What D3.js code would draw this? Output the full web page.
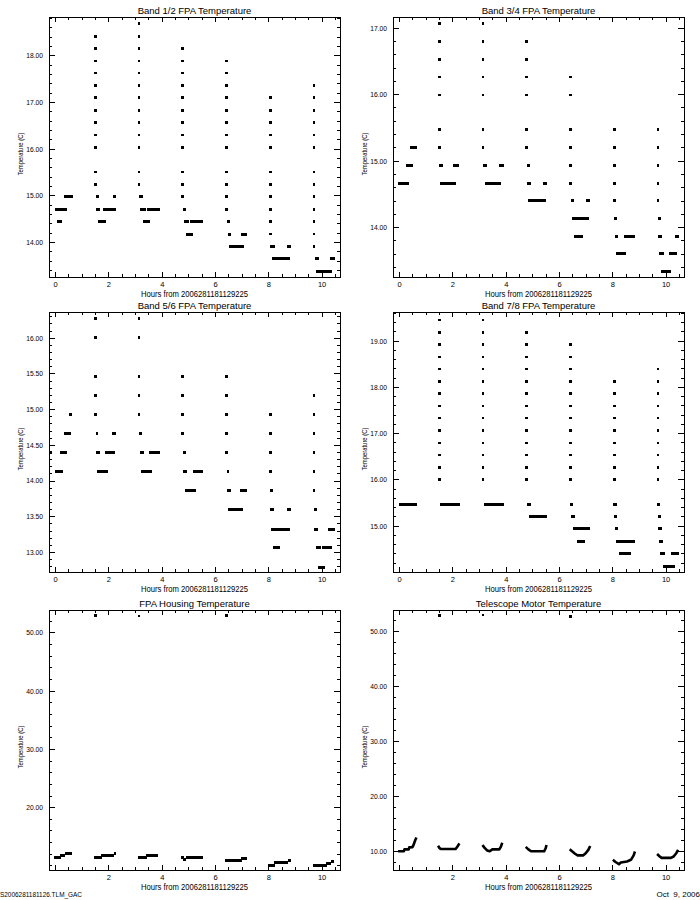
<!DOCTYPE html>
<html><head><meta charset="utf-8">
<script src="https://cdn.jsdelivr.net/npm/d3@7"></script>
<style>
body{margin:0;background:#fff}
svg{display:block}
text{font-family:"Liberation Sans",Arial,sans-serif;fill:#000}
</style>
</head><body>
<svg id="c" width="700" height="900"></svg>
<script>
// ---------------- DATA ----------------
const xDomain = [-0.23, 10.69];
const hourTicks = [0, 2, 4, 6, 8, 10];
const hourLabelsTop = [0, 2, 4, 6, 8, 10];
const hourLabelsBottom = [2, 4, 6, 8, 10];
const xTitle = "Hours from 2006281181129225";
const yTitle = "Temperature (C)";
const footerLeft = "S2006281181126.TLM_GAC";
const footerRight = "Oct  9, 2006";

// Band 1/2
const band12Title = "Band 1/2 FPA Temperature";
const band12YDomain = [13.25, 18.82];
const band12YTicks = [14, 15, 16, 17, 18];
const band12Runs = [
  [0.00,0.44,14.70],[0.06,0.26,14.44],[0.35,0.66,14.97],
  [1.53,1.64,14.97],[1.55,1.70,14.70],[1.60,1.90,14.44],[1.80,2.28,14.70],[2.19,2.26,14.97],
  [3.16,3.29,14.97],[3.19,3.41,14.70],[3.29,3.56,14.44],[3.45,3.94,14.70],
  [4.80,4.90,14.70],[4.84,5.01,14.44],[4.91,5.16,14.17],[5.06,5.54,14.44],
  [6.44,6.56,14.44],[6.47,6.60,14.17],[6.54,7.08,13.90],[6.96,7.19,14.17],
  [8.08,8.25,13.90],[8.15,8.81,13.64],[8.71,8.85,13.90],
  [9.75,9.90,13.64],[9.79,10.38,13.37],[10.31,10.50,13.64]
];
const band12SpikeTimes = [1.50, 3.15, 4.78, 6.44, 8.08, 9.71];
const band12SpikeValues = [
  [18.41,18.15,17.88,17.62,17.35,17.09,16.82,16.56,16.29,16.03,15.50,15.23],
  [18.68,18.41,18.15,17.88,17.62,17.35,17.09,16.82,16.56,16.29,16.03,15.50,15.23],
  [18.15,17.88,17.62,17.35,17.09,16.82,16.56,16.29,16.03,15.50,15.23,14.97],
  [17.88,17.62,17.35,17.09,16.82,16.56,16.29,16.03,15.50,15.23,14.97,14.70],
  [17.09,16.82,16.56,16.29,16.03,15.50,15.23,14.97,14.70,14.44,14.17],
  [17.35,17.09,16.82,16.56,16.29,16.03,15.50,15.23,14.97,14.70,14.44,14.17,13.90]
];

// Band 3/4
const band34Title = "Band 3/4 FPA Temperature";
const band34YDomain = [13.25, 17.16];
const band34YTicks = [14, 15, 16, 17];
const band34Runs = [
  [-0.04,0.36,14.66],[0.25,0.51,14.93],[0.40,0.66,15.20],
  [1.50,1.63,14.93],[1.53,2.13,14.66],[2.03,2.25,14.93],
  [3.15,3.28,14.93],[3.21,3.84,14.66],[3.74,3.93,14.93],
  [4.78,4.91,14.93],[4.81,4.94,14.66],[4.84,5.50,14.40],[5.40,5.54,14.66],
  [6.45,6.55,14.40],[6.49,7.11,14.13],[6.58,6.90,13.86],[7.00,7.18,14.40],
  [8.05,8.18,14.13],[8.11,8.22,13.86],[8.12,8.53,13.60],[8.43,8.84,13.86],
  [9.71,9.81,14.13],[9.71,9.86,13.86],[9.75,9.93,13.60],[9.81,10.21,13.33],[10.13,10.41,13.60],[10.34,10.50,13.86]
];
const band34SpikeTimes = [1.50, 3.15, 4.78, 6.43, 8.08, 9.71];
const band34SpikeValues = [
  [17.06,16.79,16.52,16.26,15.99,15.47,15.20],
  [17.06,16.79,16.52,16.26,15.99,15.47,15.20],
  [16.79,16.52,16.26,15.99,15.47,15.20],
  [16.26,15.99,15.47,15.20,14.93,14.66],
  [15.47,15.20,14.93,14.66,14.40],
  [15.47,15.20,14.93,14.66,14.40]
];

// Band 5/6
const band56Title = "Band 5/6 FPA Temperature";
const band56YDomain = [12.72, 16.36];
const band56YTicks = [13.0, 13.5, 14.0, 14.5, 15.0, 15.5, 16.0];
const band56Runs = [
  [-0.21,-0.12,14.39],[0.00,0.29,14.13],[0.19,0.45,14.39],[0.35,0.60,14.66],[0.53,0.65,14.93],
  [1.53,1.60,14.66],[1.54,1.69,14.39],[1.56,1.98,14.13],[1.88,2.25,14.39],[2.15,2.28,14.66],
  [3.15,3.25,14.66],[3.19,3.34,14.39],[3.23,3.65,14.13],[3.53,3.94,14.39],
  [4.78,4.91,14.39],[4.81,4.94,14.13],[4.88,5.29,13.86],[5.19,5.54,14.13],
  [6.44,6.54,14.13],[6.46,6.59,13.86],[6.50,7.04,13.59],[6.94,7.19,13.86],
  [8.08,8.16,13.86],[8.08,8.21,13.59],[8.10,8.81,13.32],[8.16,8.44,13.06],[8.71,8.85,13.59],
  [9.71,9.81,13.59],[9.73,9.88,13.32],[9.79,9.96,13.06],[9.88,10.13,12.79],[10.00,10.38,13.06],[10.25,10.50,13.32]
];
const band56SpikeTimes = [1.50, 3.15, 4.78, 6.44, 8.08, 9.71];
const band56SpikeValues = [
  [16.27,16.00,15.46,15.19,14.93],
  [16.27,16.00,15.46,15.19,14.93],
  [15.46,15.19,14.93,14.66],
  [15.46,15.19,14.93,14.66,14.39],
  [14.93,14.66,14.39,14.13],
  [15.19,14.93,14.66,14.39,14.13,13.86]
];

// Band 7/8
const band78Title = "Band 7/8 FPA Temperature";
const band78YDomain = [14.00, 19.62];
const band78YTicks = [15, 16, 17, 18, 19];
const band78Runs = [
  [0.00,0.66,15.45],
  [1.53,2.28,15.45],
  [3.19,3.93,15.45],
  [4.78,4.96,15.45],[4.86,5.54,15.20],
  [6.40,6.54,15.45],[6.45,6.59,15.20],[6.53,7.18,14.93],[6.66,6.96,14.66],
  [8.03,8.18,15.45],[8.05,8.18,15.20],[8.09,8.23,14.93],[8.13,8.84,14.66],[8.25,8.69,14.39],
  [9.66,9.78,15.45],[9.70,9.81,15.20],[9.70,9.86,14.93],[9.75,9.90,14.66],[9.79,9.99,14.39],[9.90,10.34,14.12],[10.21,10.50,14.39]
];
const band78SpikeTimes = [1.50, 3.15, 4.78, 6.43, 8.08, 9.71];
const band78SpikeValues = [
  [19.45,19.18,18.92,18.65,18.39,18.12,17.86,17.59,17.33,17.06,16.79,16.53,16.26,16.00],
  [19.45,19.18,18.92,18.65,18.39,18.12,17.86,17.59,17.33,17.06,16.79,16.53,16.26,16.00],
  [19.18,18.92,18.65,18.39,18.12,17.86,17.59,17.33,17.06,16.79,16.53,16.26,16.00],
  [18.92,18.65,18.39,18.12,17.86,17.59,17.33,17.06,16.79,16.53,16.26,16.00],
  [18.12,17.86,17.59,17.33,17.06,16.79,16.53,16.26,16.00],
  [18.39,18.12,17.86,17.59,17.33,17.06,16.79,16.53,16.26,16.00]
];

// FPA Housing
const housingTitle = "FPA Housing Temperature";
const housingYDomain = [9.22, 53.83];
const housingYTicks = [20, 30, 40, 50];
const housingRuns = [
  [-0.03,0.22,11.39],[0.17,0.36,11.70],[0.36,0.65,12.07],
  [1.46,1.75,11.30],[1.72,2.22,11.72],[2.20,2.28,12.05],
  [3.10,3.44,11.30],[3.42,3.87,11.68],
  [4.74,4.80,11.40],[4.78,4.92,11.00],[4.90,5.54,11.30],
  [6.37,7.00,10.85],[6.97,7.19,11.25],
  [8.00,8.25,10.05],[8.23,8.75,10.45],[8.73,8.85,10.80],
  [9.69,10.19,10.05],[10.17,10.37,10.40],[10.35,10.47,10.75]
];
const housingSpikeTimes = [1.50, 3.15, 6.44];
const housingSpikeValues = [[52.86],[52.80],[52.86]];

// Telescope Motor
const motorTitle = "Telescope Motor Temperature";
const motorYDomain = [6.55, 53.75];
const motorYTicks = [10, 20, 30, 40, 50];
const motorCurves = [
  [[-0.04,9.95],[0.18,9.95],[0.20,10.30],[0.36,10.30],[0.38,10.65],[0.50,10.70],[0.55,11.20],[0.60,11.90],[0.65,12.45]],
  [[1.46,10.95],[1.52,10.50],[1.58,10.35],[2.12,10.35],[2.19,10.80],[2.26,11.40]],
  [[3.13,11.10],[3.20,10.60],[3.30,10.10],[3.40,9.95],[3.50,10.30],[3.76,10.30],[3.82,10.80],[3.87,11.50]],
  [[4.75,10.75],[4.85,10.30],[4.95,9.95],[5.44,9.95],[5.50,10.50],[5.53,11.10]],
  [[6.40,10.30],[6.50,9.90],[6.60,9.50],[6.70,9.20],[6.90,9.20],[7.00,9.60],[7.10,10.20],[7.17,10.90]],
  [[8.02,8.40],[8.12,8.00],[8.25,7.60],[8.32,7.90],[8.55,8.10],[8.70,8.40],[8.80,9.20],[8.85,9.90]],
  [[9.68,9.45],[9.78,9.00],[9.85,8.75],[10.20,8.75],[10.30,9.00],[10.40,9.60],[10.47,10.20]]
];
const motorSpikeTimes = [1.50, 3.15, 6.43];
const motorSpikeValues = [[52.72],[52.84],[52.60]];

// ---------------- LAYOUT ----------------
const cols = [[49, 340], [393, 684]];
const rows = [[17, 277], [312, 572], [610, 870]];

const panels = [
  {title: band12Title, col: 0, row: 0, yDomain: band12YDomain, yTicks: band12YTicks, yMinor: 5, runs: band12Runs, spikeTimes: band12SpikeTimes, spikeValues: band12SpikeValues, xLabels: hourLabelsTop},
  {title: band34Title, col: 1, row: 0, yDomain: band34YDomain, yTicks: band34YTicks, yMinor: 5, runs: band34Runs, spikeTimes: band34SpikeTimes, spikeValues: band34SpikeValues, xLabels: hourLabelsTop},
  {title: band56Title, col: 0, row: 1, yDomain: band56YDomain, yTicks: band56YTicks, yMinor: 5, runs: band56Runs, spikeTimes: band56SpikeTimes, spikeValues: band56SpikeValues, xLabels: hourLabelsTop},
  {title: band78Title, col: 1, row: 1, yDomain: band78YDomain, yTicks: band78YTicks, yMinor: 5, runs: band78Runs, spikeTimes: band78SpikeTimes, spikeValues: band78SpikeValues, xLabels: hourLabelsTop},
  {title: housingTitle, col: 0, row: 2, yDomain: housingYDomain, yTicks: housingYTicks, yMinor: 5, runs: housingRuns, spikeTimes: housingSpikeTimes, spikeValues: housingSpikeValues, xLabels: hourLabelsBottom},
  {title: motorTitle, col: 1, row: 2, yDomain: motorYDomain, yTicks: motorYTicks, yMinor: 5, runs: [], curves: motorCurves, spikeTimes: motorSpikeTimes, spikeValues: motorSpikeValues, xLabels: hourLabelsBottom}
];

const svg = d3.select("#c");
const defs = svg.append("defs");
const fmt = d3.format(".2f");

function minorValues(dom, step) {
  const a = Math.ceil(dom[0] / step - 1e-9), b = Math.floor(dom[1] / step + 1e-9);
  return d3.range(a, b + 1).map(k => +(k * step).toFixed(6));
}

function styleAxis(g) {
  g.select(".domain").remove();
  g.selectAll("line").attr("stroke", "#000").attr("stroke-width", 1).attr("shape-rendering", "crispEdges");
}

panels.forEach((p, i) => {
  const [x0, x1] = cols[p.col];
  const [y0, y1] = rows[p.row];
  const x = d3.scaleLinear().domain(xDomain).range([x0, x1]);
  const y = d3.scaleLinear().domain(p.yDomain).range([y1, y0]);
  const g = svg.append("g");
  const cid = "clip" + i;
  defs.append("clipPath").attr("id", cid).append("rect")
    .attr("x", x0).attr("y", y0).attr("width", x1 - x0).attr("height", y1 - y0);
  const plot = g.append("g").attr("clip-path", `url(#${cid})`);

  const xLen = 0.02 * (y1 - y0), yLen = 0.02 * (x1 - x0);
  const xMinor = minorValues(xDomain, 0.5).filter(v => !hourTicks.includes(v));
  const yStep = p.yTicks[1] - p.yTicks[0];
  const yMinor = minorValues(p.yDomain, yStep / p.yMinor).filter(v => !p.yTicks.some(t => Math.abs(t - v) < 1e-6));

  // bottom axis
  const gb = g.append("g").attr("transform", `translate(0,${y1})`)
    .call(d3.axisBottom(x).tickValues(hourTicks).tickSizeInner(-xLen).tickSizeOuter(0).tickPadding(5)
      .tickFormat(d => p.xLabels.includes(d) ? String(d) : ""));
  styleAxis(gb);
  gb.selectAll("text").attr("font-size", 7.5).attr("font-family", null).attr("fill", "#000");
  const gbm = g.append("g").attr("transform", `translate(0,${y1})`)
    .call(d3.axisBottom(x).tickValues(xMinor).tickSizeInner(-xLen / 2).tickSizeOuter(0).tickFormat(() => ""));
  styleAxis(gbm);
  // top axis
  const gt = g.append("g").attr("transform", `translate(0,${y0})`)
    .call(d3.axisTop(x).tickValues(hourTicks).tickSizeInner(-xLen).tickSizeOuter(0).tickFormat(() => ""));
  styleAxis(gt);
  const gtm = g.append("g").attr("transform", `translate(0,${y0})`)
    .call(d3.axisTop(x).tickValues(xMinor).tickSizeInner(-xLen / 2).tickSizeOuter(0).tickFormat(() => ""));
  styleAxis(gtm);
  // left axis
  const gl = g.append("g").attr("transform", `translate(${x0},0)`)
    .call(d3.axisLeft(y).tickValues(p.yTicks).tickSizeInner(-yLen).tickSizeOuter(0).tickPadding(6).tickFormat(fmt));
  styleAxis(gl);
  gl.selectAll("text").attr("font-size", 7.5).attr("font-family", null).attr("fill", "#000")
    .attr("textLength", 16.8).attr("lengthAdjust", "spacingAndGlyphs");
  const glm = g.append("g").attr("transform", `translate(${x0},0)`)
    .call(d3.axisLeft(y).tickValues(yMinor).tickSizeInner(-yLen / 2).tickSizeOuter(0).tickFormat(() => ""));
  styleAxis(glm);
  // right axis
  const gr = g.append("g").attr("transform", `translate(${x1},0)`)
    .call(d3.axisRight(y).tickValues(p.yTicks).tickSizeInner(-yLen).tickSizeOuter(0).tickFormat(() => ""));
  styleAxis(gr);
  const grm = g.append("g").attr("transform", `translate(${x1},0)`)
    .call(d3.axisRight(y).tickValues(yMinor).tickSizeInner(-yLen / 2).tickSizeOuter(0).tickFormat(() => ""));
  styleAxis(grm);

  // box
  g.append("rect").attr("x", x0).attr("y", y0).attr("width", x1 - x0).attr("height", y1 - y0)
    .attr("fill", "none").attr("stroke", "#000").attr("stroke-width", 1).attr("shape-rendering", "crispEdges");

  // data: runs
  plot.selectAll("rect.run").data(p.runs).join("rect").attr("class", "run")
    .attr("x", d => x(d[0])).attr("width", d => Math.max(2.5, x(d[1]) - x(d[0])))
    .attr("y", d => y(d[2]) - 1.5).attr("height", 3)
    .attr("fill", "#000").attr("shape-rendering", "crispEdges");
  // spikes
  const pts = p.spikeTimes.flatMap((t, k) => p.spikeValues[k].map(v => [t, v]));
  plot.selectAll("rect.pt").data(pts).join("rect").attr("class", "pt")
    .attr("x", d => x(d[0]) - 1.3).attr("y", d => y(d[1]) - 1.3)
    .attr("width", 2.7).attr("height", 2.7)
    .attr("fill", "#000").attr("shape-rendering", "crispEdges");
  // curves
  if (p.curves) {
    const line = d3.line().x(d => x(d[0])).y(d => y(d[1]));
    plot.selectAll("path.curve").data(p.curves).join("path").attr("class", "curve")
      .attr("d", line).attr("fill", "none").attr("stroke", "#000")
      .attr("stroke-width", 2.6).attr("stroke-linejoin", "round");
  }

  // titles
  g.append("text").attr("x", (x0 + x1) / 2).attr("y", y0 - 3).attr("text-anchor", "middle")
    .attr("font-size", 9.5).text(p.title);
  g.append("text").attr("x", (x0 + x1) / 2).attr("y", y1 + 20).attr("text-anchor", "middle")
    .attr("font-size", 9).attr("textLength", 107).attr("lengthAdjust", "spacingAndGlyphs").text(xTitle);
  const ym = (y0 + y1) / 2 + 7, xt = x0 - 26.5;
  g.append("text").attr("transform", `translate(${xt},${ym}) rotate(-90)`).attr("text-anchor", "middle")
    .attr("font-size", 7).attr("textLength", 43).attr("lengthAdjust", "spacingAndGlyphs").text(yTitle);
});

svg.append("text").attr("x", 0).attr("y", 896.5).attr("font-size", 8)
  .attr("textLength", 82).attr("lengthAdjust", "spacingAndGlyphs").text(footerLeft);
svg.append("text").attr("x", 700).attr("y", 896.5).attr("text-anchor", "end").attr("font-size", 8)
  .style("white-space", "pre").text(footerRight);
</script>
</body></html>
